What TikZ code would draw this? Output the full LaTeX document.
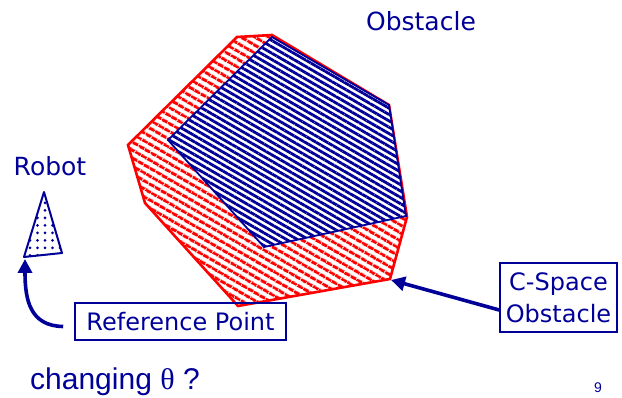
\documentclass[tikz,border=0pt]{standalone}
\usepackage{fontspec}
\setmainfont{Liberation Sans}
\newfontfamily\genevafont{DejaVu Sans}
\newfontfamily\thetafont{Liberation Serif}
\usetikzlibrary{arrows.meta,patterns.meta,calc}
\definecolor{navy}{HTML}{000099}
\definecolor{cred}{HTML}{FF0000}

\begin{document}
\begin{tikzpicture}[x=1pt,y=-1pt,
    lbl/.style={text=navy,font=\genevafont\fontsize{25}{30}\selectfont,inner sep=0pt},
    tagbox/.style={draw=navy,line width=1.6pt,text=navy,align=center,inner sep=0pt,
      font=\genevafont\fontsize{24}{32}\selectfont},
    pointer/.style={navy,line width=3.6pt,-{Triangle[length=14pt,width=14pt]}}]
    \useasboundingbox (0,0) rectangle (622,398);

    % c-space obstacle
    \draw[cred,line width=2.6pt,pattern={Lines[angle=-30,distance=6.5pt,line width=3.2pt]},pattern color=cred]
      (237,37) -- (272,35) -- (389,105) -- (407,217) -- (390,279) -- (238,306) -- (145,203) -- (128,145) -- cycle;
    % obstacle
    \draw[navy,line width=1.8pt,fill=white,
      postaction={pattern={Lines[angle=-30,distance=5.5pt,line width=2.8pt]},pattern color=navy}]
      (272,37) -- (389,105) -- (406,216) -- (264,247) -- (168,140) -- cycle;

    % robot
    \draw[navy,line width=2pt,line join=round,pattern={Dots[distance=7.5pt,radius=1.5pt]},pattern color=navy]
      (44,192) -- (62,253) -- (24,257) -- cycle;
    \coordinate (refvtx) at (25,259);
    \coordinate (cspedge) at (391,280);

    % labels
    \node[lbl] (robot) at (50,166) {Robot};
    \node[lbl] (obstacle) at (421,21) {Obstacle};
    \node[tagbox,minimum width=211pt,minimum height=37pt] (refpt) at (180.5,321.5) {Reference Point};
    \node[tagbox,minimum width=117pt,minimum height=69pt] (cspace) at (558.5,297.5) {C-Space\\Obstacle};
    \node[anchor=base west,text=navy,font=\fontsize{30}{36}\selectfont,inner sep=0pt] (question) at (30,390)
      {changing {\thetafont θ} ?};
    \node[anchor=base,text=navy,font=\fontsize{14}{16}\selectfont,inner sep=0pt] (pagenum) at (598,392) {9};

    % arrows
    \draw[pointer] ([shift={(-11pt,-5pt)}]refpt.west) .. controls (30,326) and (25,300) .. (refvtx);
    \draw[pointer] ([yshift=-12.5pt]cspace.west) -- (cspedge);
\end{tikzpicture}
\end{document}
